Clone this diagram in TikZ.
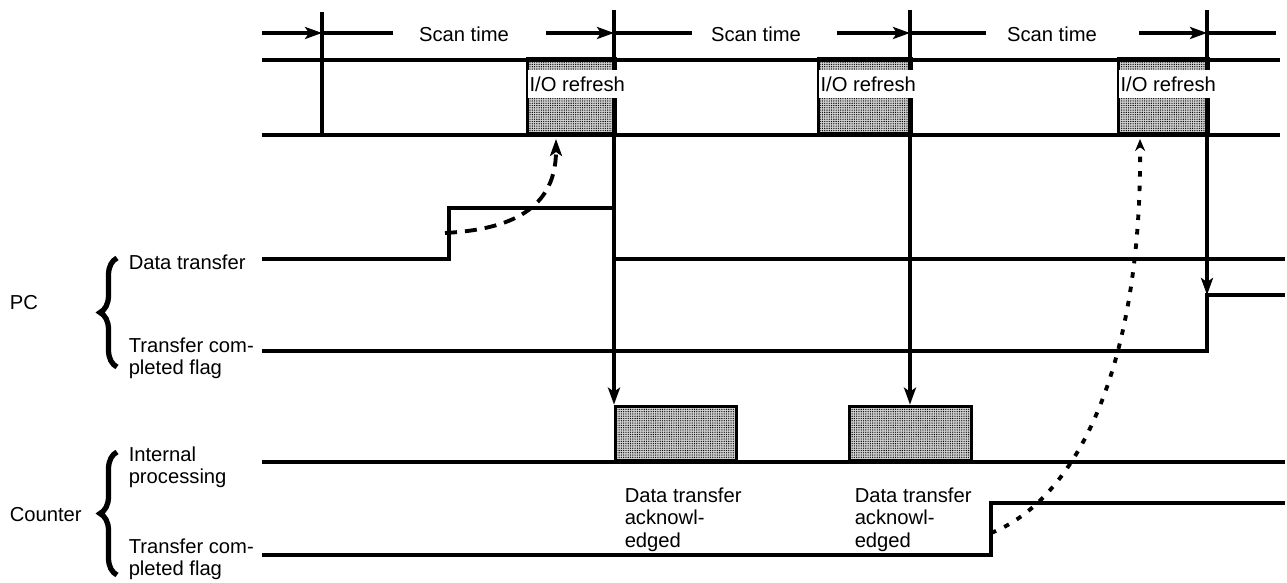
\documentclass[tikz,border=0pt]{standalone}
\usepackage{fontspec}
\setmainfont{Liberation Sans}
\usetikzlibrary{arrows.meta,decorations.pathreplacing,patterns.meta}

\begin{document}
\begin{tikzpicture}[x=0.2mm,y=-0.2mm,line width=2pt,
      font=\fontsize{11.5}{12.8}\selectfont,>={Stealth[length=3.4mm,width=2.4mm,inset=0.8mm]},
      sig/.style={line width=1.9pt},
      tline/.style={line width=2.2pt},
      busy/.style={draw,line width=1.9pt,preaction={fill=black!18},pattern={Dots[distance=1.3pt,radius=0.38pt]},
        inner sep=0pt,anchor=south west},
      knock/.style={fill=white,anchor=west,inner xsep=1pt,inner ysep=3.6pt,text height=8.4pt,text depth=0pt},
      lbl/.style={anchor=north west,align=left,inner sep=0pt},
      grp/.style={decorate,decoration={brace,amplitude=3.4mm},line width=3pt}]
    \useasboundingbox (0,0) rectangle (1287,583);
    % --- scan time axis ---
    \coordinate (tk1) at (322,12);
    \coordinate (tk2) at (614,10);
    \coordinate (tk3) at (910,10);
    \coordinate (tk4) at (1207,10);
    \node (scan1) at (464,34) {Scan time};
    \node (scan2) at (756,34) {Scan time};
    \node (scan3) at (1052,34) {Scan time};
    \foreach \a/\t/\b in {262/322/393,546/614/692,837/910/986,1139/1207/1276} {
      \draw[tline,->] (\a,33) -- (\t,33);
      \draw[tline] (\t,33) -- (\b,33);
    }
    % --- I/O refresh row ---
    \node[busy,minimum width=17.6mm,minimum height=15mm] (io1) at (526,135) {};
    \node[busy,minimum width=18.6mm,minimum height=15mm] (io2) at (817,135) {};
    \node[busy,minimum width=18mm,minimum height=15mm] (io3) at (1117,135) {};
    \draw[sig] (262,60) -- (1280,60);
    \draw[sig] (262,135) -- (1280,135);
    % --- counter busy boxes ---
    \node[busy,minimum width=24.2mm,minimum height=10.8mm] (proc1) at (614,462) {};
    \node[busy,minimum width=24.4mm,minimum height=10.8mm] (proc2) at (848,462) {};
    % --- PC signals ---
    \coordinate (pcup) at (1207,295);
    \draw[sig] (262,259) -- (449,259) -- (449,208) -- (614,208) -- (614,259) -- (1285,259);
    \draw[sig] (262,351) -- (1207,351) -- (pcup) -- (1285,295);
    % --- counter signals ---
    \coordinate (ctup) at (991,533);
    \draw[sig] (262,462) -- (1285,462);
    \draw[sig] (262,555) -- (991,555) -- (991,503) -- (1285,503);
    % timing lines
    \draw[tline] (tk1) -- (tk1 |- io1.south);
    \draw[tline,->] (tk2) -- (proc1.north west);
    \draw[tline,->] (tk3) -- (tk3 |- proc2.north);
    \draw[tline,->] (tk4) -- (pcup);
    % I/O refresh texts
    \node[knock] (iot1) at (526,84) {I/O refresh};
    \node[knock] (iot2) at (817,84) {I/O refresh};
    \node[knock] (iot3) at (1117,84) {I/O refresh};
    % dashed / dotted requests
    \coordinate (req) at (445,233);
    \draw[->,dash pattern=on 2.4mm off 1.6mm,line width=2.2pt] (req) .. controls (500,230) and (556,215) .. (556,139);
    \draw[->,>={Stealth[length=2.4mm,width=2mm]},dash pattern=on 1.1mm off 1.8mm,line width=2.2pt]
      (ctup) .. controls (1075,500) and (1142,370) .. (1140,139);
    % --- left labels ---
    \node[anchor=base west,inner sep=0pt] (pcdata) at (127,270) {Data transfer};
    \node[lbl] (pcflag) at (127,336) {Transfer com-\\pleted flag};
    \node[lbl] (ctproc) at (127,445) {Internal\\processing};
    \node[lbl] (ctflag) at (127,537) {Transfer com-\\pleted flag};
    \node (pc) at (24,303) {PC};
    \node[anchor=west,inner sep=0pt] (ctr) at (8,515) {Counter};
    \draw[grp] (117,367) -- (117,258);
    \draw[grp] (117,575) -- (117,452);
    % acknowledge notes
    \node[lbl] (ack1) at (623,486) {Data transfer\\acknowl-\\edged};
    \node[lbl] (ack2) at (853,486) {Data transfer\\acknowl-\\edged};
\end{tikzpicture}
\end{document}
